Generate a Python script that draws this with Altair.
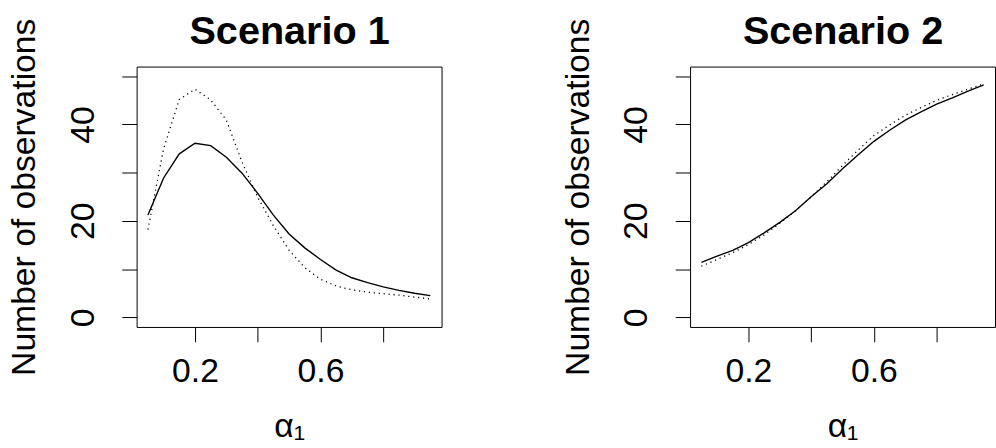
import altair as alt
import pandas as pd

alpha = [0.05, 0.10, 0.15, 0.20, 0.25, 0.30, 0.35, 0.40, 0.45, 0.50,
         0.55, 0.60, 0.65, 0.70, 0.75, 0.80, 0.85, 0.90, 0.95]

s1_solid = [21.2, 28.9, 33.9, 36.1, 35.6, 33.2, 29.9, 25.7, 21.2, 17.3,
            14.4, 12.0, 9.8, 8.2, 7.2, 6.3, 5.6, 5.0, 4.5]
s1_dotted = [18.2, 35.0, 45.2, 47.3, 45.1, 40.9, 32.2, 24.9, 19.0, 13.9,
             10.3, 7.9, 6.5, 5.7, 5.2, 4.9, 4.6, 4.2, 3.8]

s2_solid = [11.4, 12.7, 13.9, 15.5, 17.5, 19.7, 22.1, 25.0, 27.7, 30.8,
            33.7, 36.5, 38.8, 40.9, 42.6, 44.2, 45.5, 46.9, 48.2]
s2_dotted = [10.6, 12.0, 13.4, 15.1, 17.1, 19.5, 22.1, 25.0, 28.1, 31.5,
             34.7, 37.7, 39.9, 41.9, 43.5, 45.0, 46.2, 47.3, 48.4]

titles = ["Scenario 1", "Scenario 2"]
x_ticks = [0.2, 0.4, 0.6, 0.8]
y_ticks = [0, 10, 20, 30, 40, 50]

FONT = "Liberation Sans"
AX = 34


def panel(solid, dotted, title):
    n = len(alpha)
    df = pd.DataFrame({
        "alpha": alpha + alpha,
        "obs": solid + dotted,
        "kind": ["solid"] * n + ["dotted"] * n,
    })
    xscale = alt.Scale(domain=[0.014, 0.986], nice=False, zero=False)
    yscale = alt.Scale(domain=[-2, 52], nice=False, zero=False)
    xaxis = alt.Axis(
        values=x_ticks, format=".1f",
        labelExpr="(abs(datum.value-0.2)<0.01 || abs(datum.value-0.6)<0.01) ? datum.label : ''",
        title="α₁", grid=False, domain=False,
        tickSize=15, tickColor="black", tickWidth=1,
        labelFontSize=AX, labelPadding=13, labelColor="black", labelFont=FONT,
        titleFontSize=AX, titleFont=FONT, titleFontWeight="normal", titleColor="black",
        titlePadding=22,
    )
    yaxis = alt.Axis(
        values=y_ticks,
        labelExpr="datum.value % 20 === 0 ? datum.label : ''",
        title="Number of observations", grid=False, domain=False,
        tickSize=15, tickColor="black", tickWidth=1,
        labelFontSize=AX, labelAngle=270, labelAlign="center", labelBaseline="alphabetic",
        labelPadding=29, labelColor="black", labelFont=FONT,
        titleFontSize=AX, titleFont=FONT, titleFontWeight="normal", titleColor="black",
        titleBaseline="alphabetic", titlePadding=32,
    )
    base = alt.Chart(df)
    solid_l = base.transform_filter("datum.kind == 'solid'").mark_line(
        color="black", strokeWidth=1.4
    ).encode(
        x=alt.X("alpha:Q", scale=xscale, axis=xaxis),
        y=alt.Y("obs:Q", scale=yscale, axis=yaxis),
    )
    dotted_l = base.transform_filter("datum.kind == 'dotted'").mark_line(
        color="black", strokeWidth=1.3, strokeDash=[1.2, 3.8]
    ).encode(
        x=alt.X("alpha:Q", scale=xscale, axis=None),
        y=alt.Y("obs:Q", scale=yscale, axis=yaxis),
    )
    top = base.mark_line(opacity=0).encode(
        x=alt.X("alpha:Q", scale=xscale, axis=alt.Axis(
            orient="top", title=title, labels=False, ticks=False, domain=False, grid=False,
            titleFontSize=40, titleFontWeight="bold", titleFont=FONT, titleColor="black",
            titleBaseline="alphabetic", titlePadding=23,
        )),
        y=alt.Y("obs:Q", scale=yscale, axis=yaxis),
    )
    return alt.layer(solid_l, dotted_l, top).resolve_axis(x="independent").properties(
        width=308, height=263
    )


chart = alt.hconcat(
    panel(s1_solid, s1_dotted, titles[0]),
    panel(s2_solid, s2_dotted, titles[1]),
    spacing=119,
).properties(
    padding={"left": 7, "top": 9, "right": 0, "bottom": 0},
    background="white",
).configure_view(
    stroke="black", strokeWidth=1
)

chart.save("out.html", embed_options={"renderer": "svg", "actions": False})
